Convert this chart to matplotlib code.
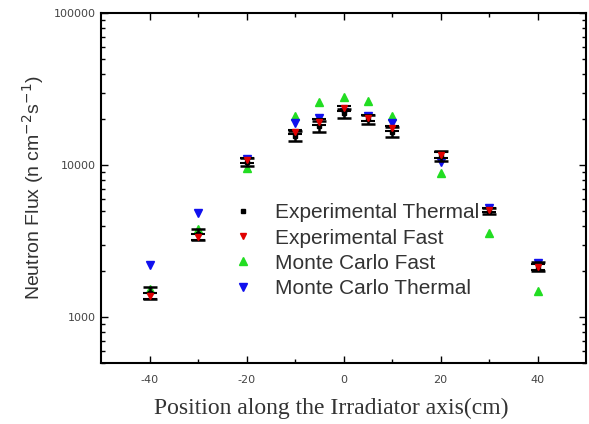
import matplotlib
matplotlib.use("Agg")
import matplotlib.pyplot as plt
from matplotlib.ticker import FixedLocator, NullFormatter
from matplotlib.lines import Line2D

positions = [-40, -30, -20, -10, -5, 0, 5, 10, 20, 30, 40]
exp_thermal = [1450, 3500, 10500, 15500, 18000, 22000, 20000, 16500, 11500, 5000, 2150]
exp_thermal_err = [130, 300, 600, 1200, 1400, 1500, 1400, 1300, 900, 200, 150]
exp_fast = [1380, 3350, 10800, 16500, 19200, 23700, 20400, 17500, 11700, 5100, 2130]
exp_fast_err = [70, 150, 400, 600, 800, 900, 800, 700, 500, 150, 100]
mc_fast = [1530, 3800, 9550, 21000, 25900, 28000, 26400, 21000, 8860, 3570, 1480]
mc_thermal = [2200, 4830, 11000, 18900, 20500, 22300, 21000, 18900, 10460, 5200, 2265]

series_names = ['Experimental Thermal', 'Experimental Fast', 'Monte Carlo Fast', 'Monte Carlo Thermal']
xticks = [-40, -20, 0, 20, 40]
yticks = [1000, 10000, 100000]

c_black, c_red, c_green, c_blue = 'black', '#e00000', '#22dd22', '#1010ee'

fig = plt.figure(figsize=(5.89, 4.24), dpi=100)
ax = fig.add_axes([0.1715, 0.1439, 0.8235, 0.8254])

ax.errorbar(positions, exp_thermal, yerr=exp_thermal_err, fmt='s', color=c_black,
            ms=3, ecolor='black', elinewidth=1.8, capsize=5, capthick=1.8, zorder=3)
ax.errorbar(positions, exp_fast, yerr=exp_fast_err, fmt='v', color=c_red,
            ms=4, ecolor='black', elinewidth=1.5, capsize=5, capthick=1.5, zorder=4)
ax.plot(positions, mc_fast, '^', color=c_green, ms=6, zorder=2, linestyle='none')
ax.plot(positions, mc_thermal, 'v', color=c_blue, ms=6, zorder=2, linestyle='none')

ax.set_yscale('log')
ax.set_xlim(-50, 50)
ax.set_ylim(500, 100000)
ax.set_xticks(xticks)
ax.set_xticklabels([str(t) for t in xticks])
ax.xaxis.set_minor_locator(FixedLocator([-30, -10, 10, 30]))
ax.set_yticks(yticks)
ax.set_yticklabels([str(t) for t in yticks])
ax.yaxis.set_minor_formatter(NullFormatter())
ax.tick_params(which='both', direction='in', top=True, right=True, labelsize=8,
               labelcolor='#444444', width=1)
ax.tick_params(axis='x', which='major', pad=9)
ax.tick_params(which='major', length=5)
ax.tick_params(which='minor', length=3)
for s in ax.spines.values():
    s.set_linewidth(1.5)

ax.set_ylabel('Neutron Flux (n cm$^{-2}$s$^{-1}$)', fontsize=14, family='Liberation Sans',
              color='#333333', labelpad=6)
ax.set_xlabel('Position along the Irradiator axis(cm)', fontsize=17, family='Liberation Serif',
              color='#333333', labelpad=8)
ax.xaxis.set_label_coords(0.474, -0.1)

handles = [
    Line2D([], [], marker='s', color=c_black, ms=3, linestyle='none'),
    Line2D([], [], marker='v', color=c_red, ms=4, linestyle='none'),
    Line2D([], [], marker='^', color=c_green, ms=6, linestyle='none'),
    Line2D([], [], marker='v', color=c_blue, ms=6, linestyle='none'),
]
leg = ax.legend(handles, series_names, loc='upper left', bbox_to_anchor=(0.222, 0.51), frameon=False,
                prop={'family': 'Liberation Sans', 'size': 15}, labelcolor='#333333',
                handletextpad=0.8, labelspacing=0.3, handlelength=1.5)

fig.savefig('out.png', dpi=100)
